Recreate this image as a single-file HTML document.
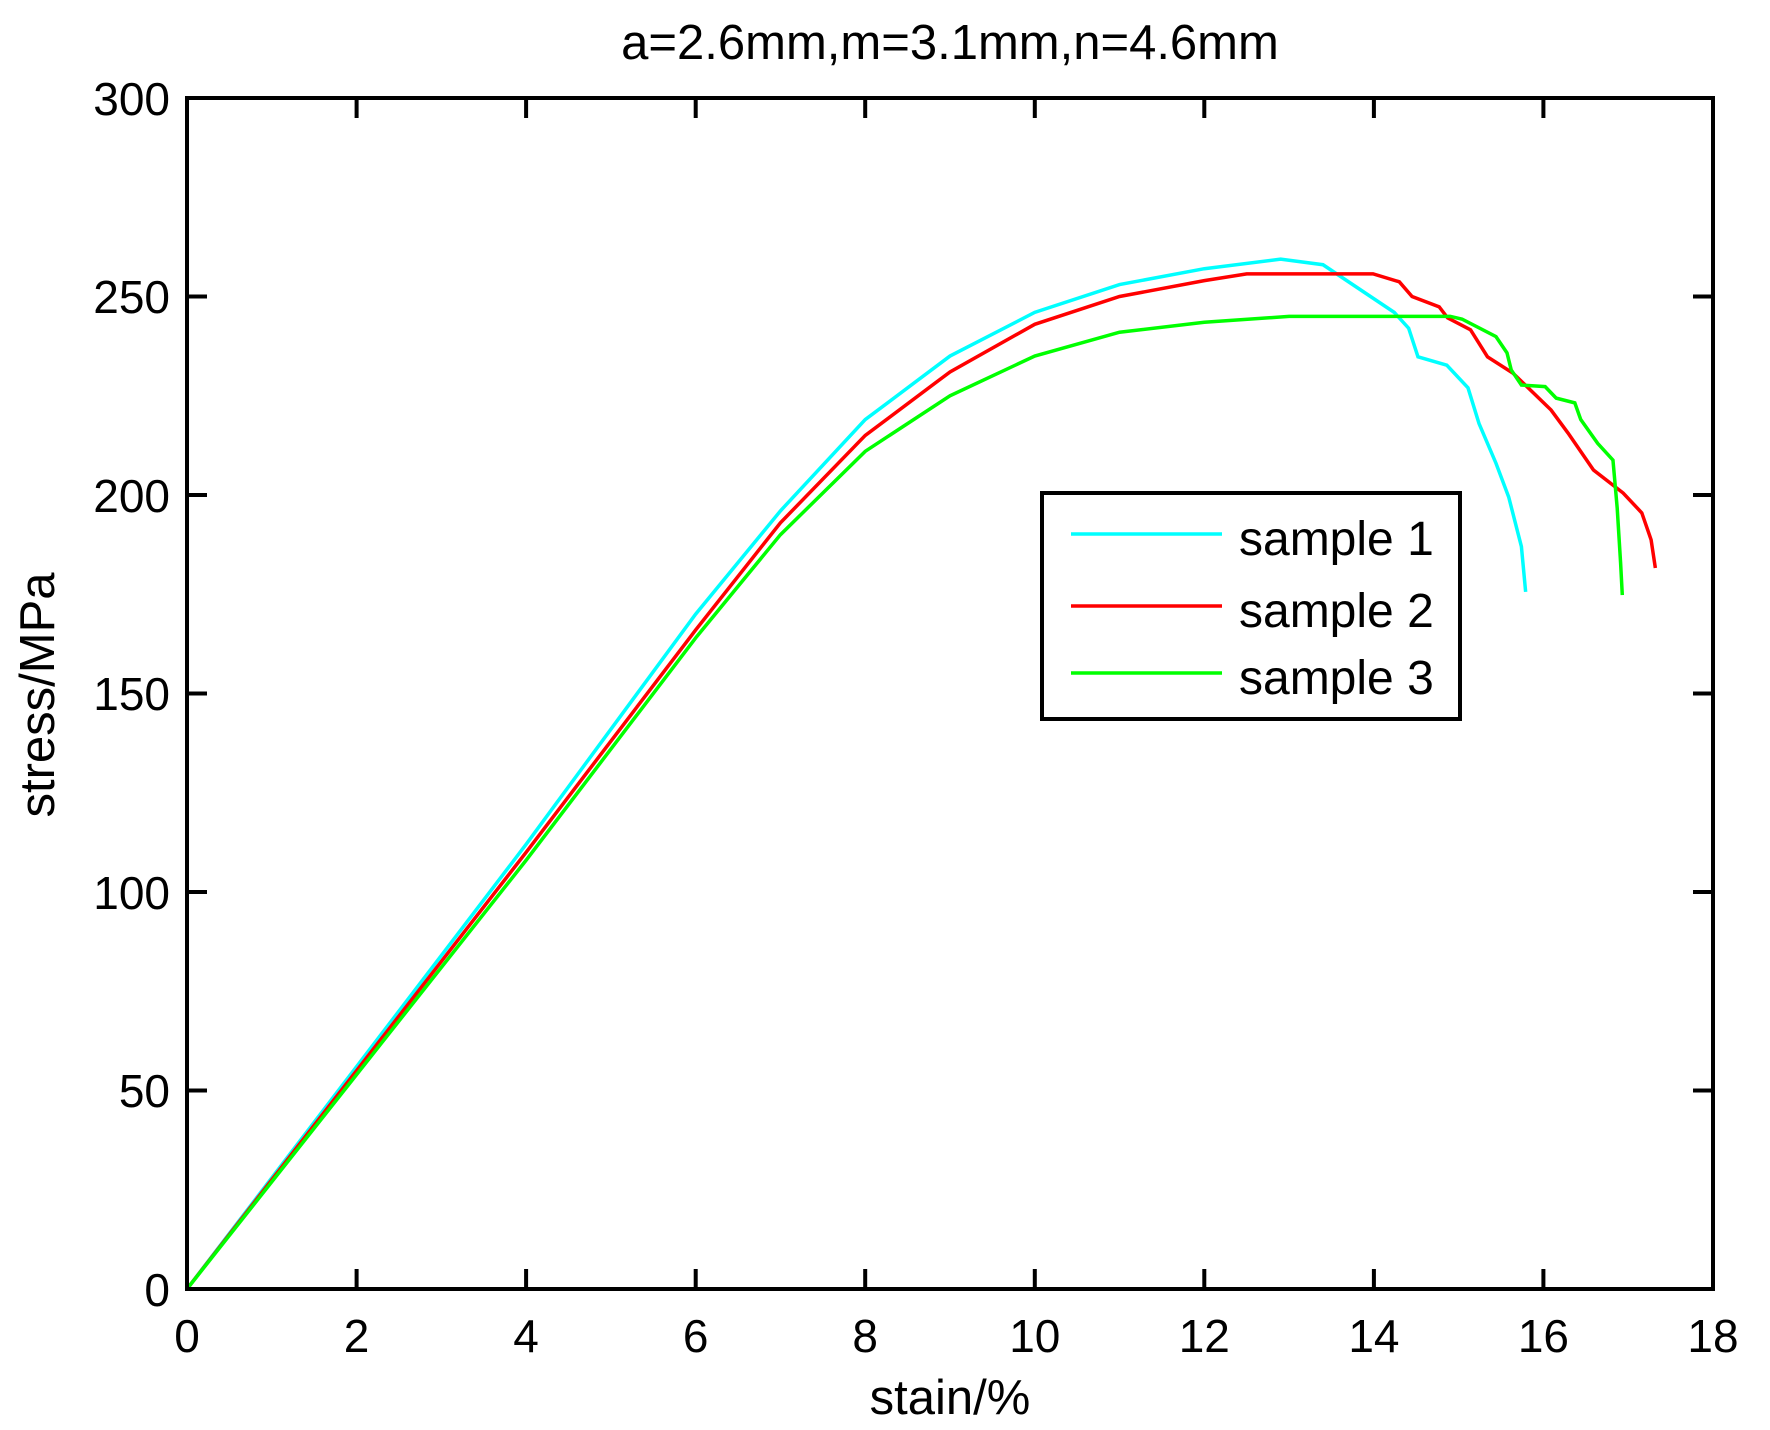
<!DOCTYPE html>
<html><head><meta charset="utf-8"><style>
html,body{margin:0;padding:0;background:#fff;}
svg{display:block;}
text{font-family:"Liberation Sans",Arial,sans-serif;fill:#000;}
</style></head><body>
<svg width="1770" height="1430" viewBox="0 0 1770 1430" xmlns="http://www.w3.org/2000/svg">
<rect width="1770" height="1430" fill="#fff"/>
<text x="950" y="59" font-size="49" text-anchor="middle">a=2.6mm,m=3.1mm,n=4.6mm</text>
<g transform="translate(187,1289) scale(84.778,-3.97)" fill="none" stroke-width="3.5" stroke-linejoin="miter">
<polyline vector-effect="non-scaling-stroke" stroke="#00ffff" points="0,0 2,56 4,112 6,170 7,196 8,219 9,235 10,246 11,253 12,257 12.9,259.4 13.4,258 14.24,246 14.41,242 14.52,234.8 14.86,232.7 15.11,227 15.24,218 15.44,208 15.59,199.5 15.74,187 15.79,175.6"/>
<polyline vector-effect="non-scaling-stroke" stroke="#ff0000" points="0,0 2,55 4,110 6,166 7,193 8,215 9,231 10,243 11,250 12,254 12.5,255.7 13.99,255.7 14.3,253.7 14.45,250 14.77,247.4 14.87,244.6 15.14,241.6 15.34,234.8 15.64,230.7 16.09,221.4 16.29,215.6 16.59,206.3 16.94,200.5 17.16,195.5 17.27,188.7 17.32,181.6"/>
<polyline vector-effect="non-scaling-stroke" stroke="#00ff00" points="0,0 2,54 4,108 6,164 7,190 8,211 9,225 10,235 11,241 12,243.5 13,245 14.9,245 15.04,244.3 15.44,239.9 15.57,235.8 15.62,231.5 15.74,227.7 16.02,227.3 16.15,224.4 16.37,223.2 16.44,219 16.64,213 16.82,208.8 16.87,196.7 16.91,182.9 16.93,174.8"/>
</g>
<g stroke="#000" stroke-width="4" fill="none">
<rect x="187" y="98" width="1526" height="1191"/>
<path d="M356.6,1289v-20M526.1,1289v-20M695.7,1289v-20M865.2,1289v-20M1034.8,1289v-20M1204.3,1289v-20M1373.9,1289v-20M1543.4,1289v-20
M356.6,98v20M526.1,98v20M695.7,98v20M865.2,98v20M1034.8,98v20M1204.3,98v20M1373.9,98v20M1543.4,98v20
M187,1090.5h20M187,892h20M187,693.5h20M187,495h20M187,296.5h20
M1713,1090.5h-20M1713,892h-20M1713,693.5h-20M1713,495h-20M1713,296.5h-20"/>
</g>
<g font-size="46" text-anchor="middle">
<text x="187" y="1352">0</text><text x="356.6" y="1352">2</text><text x="526.1" y="1352">4</text>
<text x="695.7" y="1352">6</text><text x="865.2" y="1352">8</text><text x="1034.8" y="1352">10</text>
<text x="1204.3" y="1352">12</text><text x="1373.9" y="1352">14</text><text x="1543.4" y="1352">16</text>
<text x="1713" y="1352">18</text>
</g>
<g font-size="46" text-anchor="end">
<text x="170" y="1306">0</text><text x="170" y="1107">50</text><text x="170" y="909">100</text>
<text x="170" y="710">150</text><text x="170" y="512">200</text><text x="170" y="313">250</text>
<text x="170" y="115">300</text>
</g>
<text x="950" y="1414" font-size="49" text-anchor="middle">stain/%</text>
<text transform="translate(54,695) rotate(-90)" font-size="49" text-anchor="middle">stress/MPa</text>
<rect x="1042" y="493" width="418" height="226" fill="#fff" stroke="#000" stroke-width="4"/>
<line x1="1071" y1="534" x2="1222" y2="534" stroke="#00ffff" stroke-width="3.5"/>
<line x1="1071" y1="606" x2="1222" y2="606" stroke="#ff0000" stroke-width="3.5"/>
<line x1="1071" y1="673" x2="1222" y2="673" stroke="#00ff00" stroke-width="3.5"/>
<g font-size="48">
<text x="1239" y="555">sample 1</text>
<text x="1239" y="627">sample 2</text>
<text x="1239" y="694">sample 3</text>
</g>
</svg>
</body></html>
